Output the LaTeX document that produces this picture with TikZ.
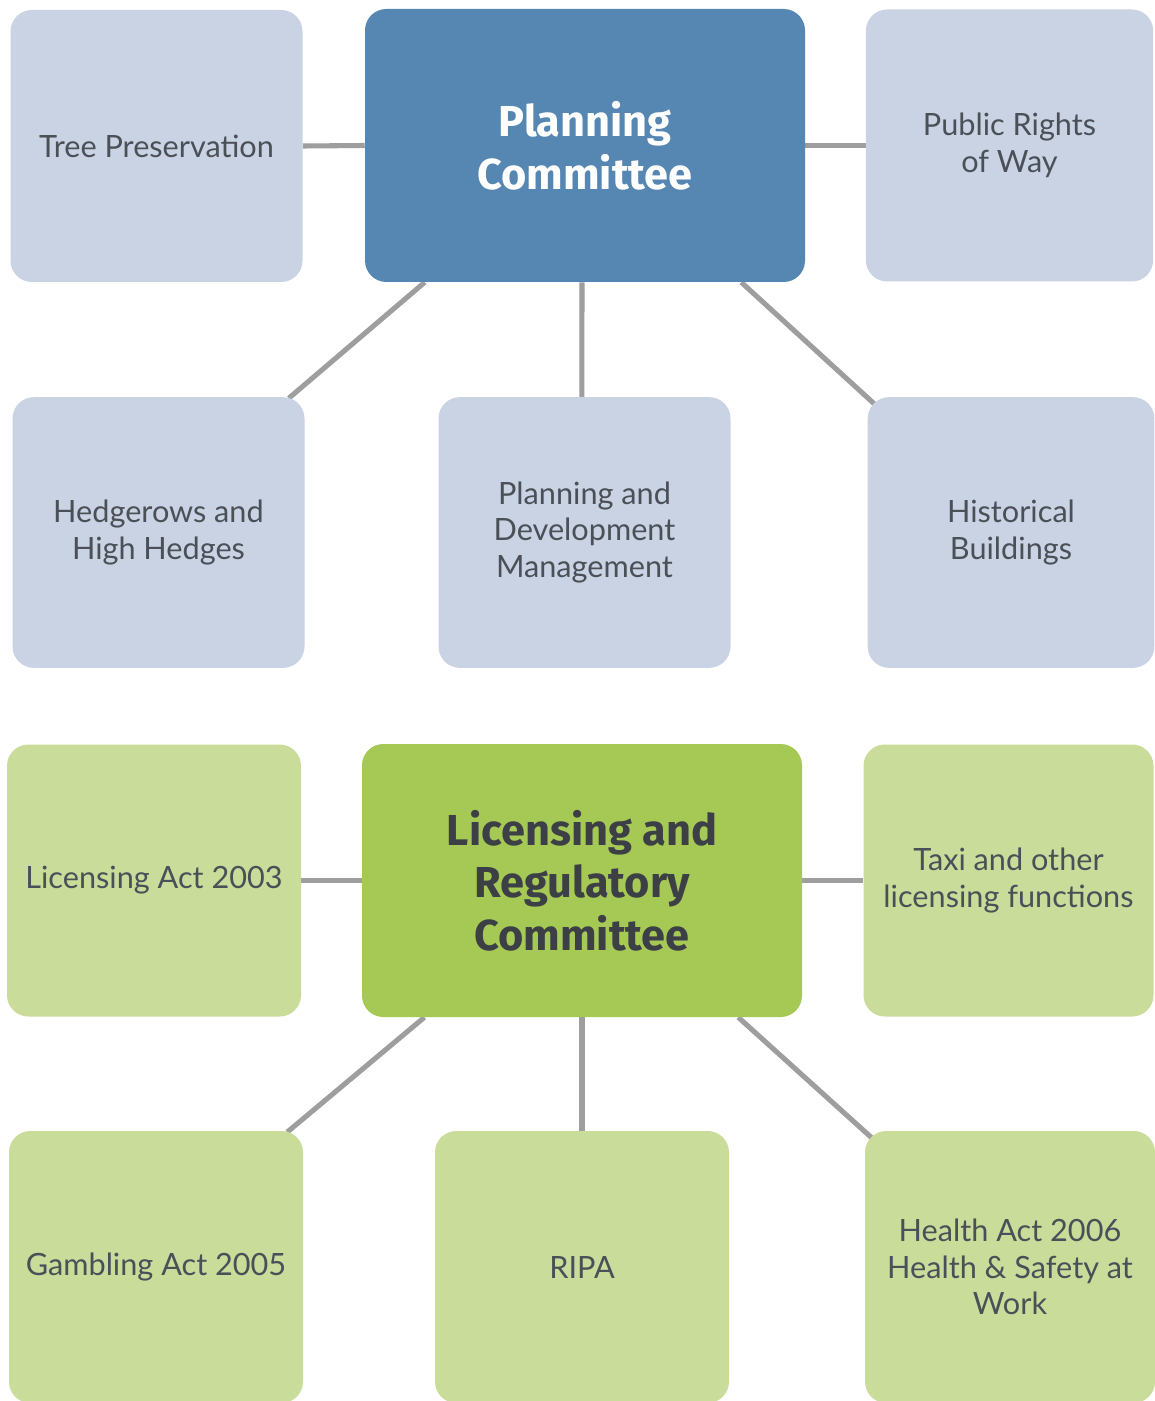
\documentclass[tikz,border=0pt]{standalone}
\usepackage{fontspec}
\setmainfont{Lato}
\newfontfamily\headfont{Fira Sans}
\usetikzlibrary{backgrounds,calc}
\definecolor{darkblue}{HTML}{5687B3}
\definecolor{lightblue}{HTML}{C9D3E3}
\definecolor{darkgreen}{HTML}{A6C955}
\definecolor{lightgreen}{HTML}{CADC9A}
\definecolor{txtgray}{HTML}{4B5058}
\definecolor{linegray}{HTML}{9E9E9E}
\begin{document}
\begin{tikzpicture}[x=0.75pt,y=-0.75pt,
  box/.style={rounded corners=16pt, minimum width=219pt, minimum height=204pt,
    align=center, text=txtgray, inner sep=4pt, font=\fontsize{23}{27.5}\selectfont},
  bluebox/.style={box, fill=lightblue},
  greenbox/.style={box, fill=lightgreen},
  headbox/.style={rounded corners=16pt, minimum width=330pt, minimum height=204.75pt,
    align=center, font=\headfont\bfseries\fontsize{32.5}{39.5}\selectfont},
  conn/.style={draw=linegray, line width=3.8pt}]
\useasboundingbox (0,0) rectangle (1155,1401);
% top
\node[headbox, fill=darkblue, text=white] (plan) at (585,145.5) {Planning\\Committee};
\node[bluebox] (tree) at (156.5,146) {Tree Preservation};
\node[bluebox, minimum width=215.5pt] (prow) at (1009.5,145.5) {Public Rights\\of Way};
\node[bluebox, minimum height=203pt] (hedge) at (158.5,532.5) {Hedgerows and\\High Hedges};
\node[bluebox, minimum height=203pt] (pdm) at (584.5,532.5) {Planning and\\Development\\Management};
\node[bluebox, minimum height=203pt, minimum width=215pt] (hist) at (1011,532.5) {Historical\\Buildings};
% bottom
\node[headbox, fill=darkgreen, text=txtgray!80!black] (lrc) at (582,880.5) {Licensing and\\Regulatory\\Committee};
\node[greenbox, minimum width=220.5pt] (lic) at (154,880.5) {Licensing Act 2003};
\node[greenbox, minimum width=217.5pt] (taxi) at (1008.5,880.5) {Taxi and other\\licensing functions};
\node[greenbox, minimum width=220.5pt] (gamb) at (156,1267) {Gambling Act 2005};
\node[greenbox, minimum width=220.5pt] (ripa) at (582,1267) {RIPA};
\node[greenbox, minimum width=217.5pt] (health) at (1010,1267) {Health Act 2006\\Health \& Safety at\\Work};
\begin{scope}[on background layer]
\fill[white] (0,0) rectangle (1155,1401);
\draw[conn] (tree.east) -- (plan.west);
\draw[conn] (plan.east) -- (prow.west);
\draw[conn] ([xshift=45pt]plan.south west) -- ([xshift=-12pt,yshift=-1pt]hedge.north east);
\draw[conn] ($(plan.south)+(-2.25pt,0)$) -- ($(pdm.north)+(-2pt,0)$);
\draw[conn] ([xshift=-48pt]plan.south east) -- ([xshift=6pt,yshift=-6pt]hist.north west);
\draw[conn] (lic.east) -- (lrc.west);
\draw[conn] (lrc.east) -- (taxi.west);
\draw[conn] ([xshift=47pt]lrc.south west) -- ([xshift=-12pt,yshift=-1pt]gamb.north east);
\draw[conn] (lrc.south) -- (ripa.north);
\draw[conn] ([xshift=-48pt]lrc.south east) -- ([xshift=6pt,yshift=-6pt]health.north west);
\end{scope}
\end{tikzpicture}
\end{document}
